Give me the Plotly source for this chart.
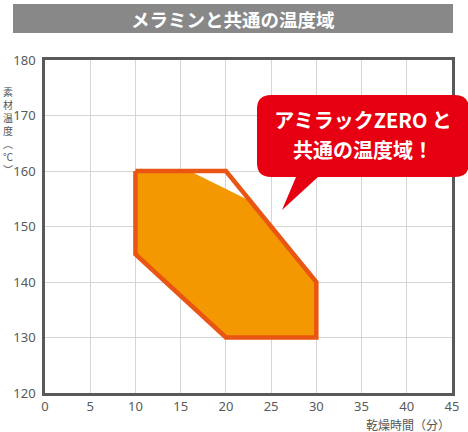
import plotly.graph_objects as go

# ---- data ----
outline_x = [10, 20, 30, 30, 20, 10, 10]
outline_y = [160, 160, 140, 130, 130, 145, 160]
fill_x = [10, 16, 22.7, 30, 30, 20, 10]
fill_y = [160, 160, 154.6, 140, 130, 130, 145]
x_ticks = [0, 5, 10, 15, 20, 25, 30, 35, 40, 45]
y_ticks = [120, 130, 140, 150, 160, 170, 180]
title_text = "メラミンと共通の温度域"
callout_lines = ["アミラックZERO と", "共通の温度域！"]
x_title = "乾燥時間（分）"
y_title_chars = ["素", "材", "温", "度", "︵", "℃", "︶"]

W, H = 468, 432
L, R, T, B = 45, 16, 60, 39
PW, PH = W - L - R, H - T - B

def px(x):
    return (x - L) / PW

def py(y):
    return (H - B - y) / PH

fig = go.Figure()
fig.add_trace(go.Scatter(x=fill_x, y=fill_y, fill="toself", fillcolor="#F39800",
                         line=dict(width=0), mode="lines", hoverinfo="skip"))
fig.add_trace(go.Scatter(x=outline_x, y=outline_y, mode="lines",
                         line=dict(color="#E95513", width=4.5), hoverinfo="skip"))

jp = "Noto Sans CJK JP"
shapes = []
# title bar (outside plot area, below annotations)
shapes.append(dict(type="rect", xref="paper", yref="paper", x0=px(13), x1=px(453),
                   y0=py(4), y1=py(33), fillcolor="#888888", line=dict(width=0), layer="below"))
# callout bubble
l, r_, t, b = 257, 469, 95, 177
rad = 14
tipx, tipy = 282, 210
tl, tr = 296, 318

def P(x, y):
    return f"{px(x):.5f},{py(y):.5f}"

path = (f"M {P(l + rad, t)} L {P(r_ - rad, t)} Q {P(r_, t)} {P(r_, t + rad)} "
        f"L {P(r_, b - rad)} Q {P(r_, b)} {P(r_ - rad, b)} "
        f"L {P(tr, b)} L {P(tipx, tipy)} L {P(tl, b)} "
        f"L {P(l + rad, b)} Q {P(l, b)} {P(l, b - rad)} "
        f"L {P(l, t + rad)} Q {P(l, t)} {P(l + rad, t)} Z")
shapes.append(dict(type="path", xref="paper", yref="paper", path=path,
                   fillcolor="#E60012", line=dict(width=0), layer="above"))
# callout text as labels of invisible rects (same layer as the bubble)
for i, line in enumerate(callout_lines):
    cy = 122 + 30 * i
    shapes.append(dict(type="rect", xref="paper", yref="paper",
                       x0=px(263), x1=px(463), y0=py(cy + 12), y1=py(cy - 12),
                       fillcolor="rgba(0,0,0,0)", line=dict(width=0), layer="above",
                       label=dict(text=line, textposition="middle center",
                                  font=dict(family=jp, size=20, color="white", weight="bold"))))

annotations = []
annotations.append(dict(text=title_text, xref="paper", yref="paper", x=px(233), y=py(18.5),
                        xanchor="center", yanchor="middle", showarrow=False,
                        font=dict(family=jp, size=18.5, color="white", weight="bold")))
annotations.append(dict(text=x_title, xref="paper", yref="paper", x=1.0, y=py(424),
                        xanchor="right", yanchor="middle", showarrow=False,
                        font=dict(family=jp, size=12, color="#555555")))
annotations.append(dict(text="<br>".join(y_title_chars), xref="paper", yref="paper",
                        x=px(8), y=py(130), xanchor="center", yanchor="middle",
                        showarrow=False, borderpad=0,
                        font=dict(family=jp, size=10, color="#555555")))

axis_common = dict(showline=True, linecolor="#595959", linewidth=2.5, mirror=True,
                   showgrid=True, gridcolor="#d6d6d6", gridwidth=1, zeroline=False,
                   ticks="", tickfont=dict(family="Noto Sans", size=13, color="#595959"))
fig.update_xaxes(range=[0, 45], tickvals=x_ticks, **axis_common)
fig.update_yaxes(range=[120, 180], tickvals=y_ticks, ticklabelstandoff=4, **axis_common)

fig.update_layout(width=W, height=H, margin=dict(l=L, r=R, t=T, b=B, autoexpand=False),
                  paper_bgcolor="white", plot_bgcolor="white", showlegend=False,
                  shapes=shapes, annotations=annotations)
fig.write_html("out.html")
